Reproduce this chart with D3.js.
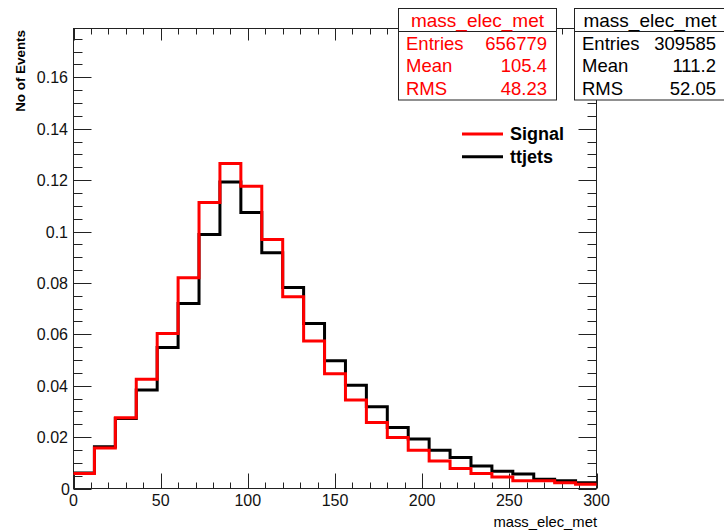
<!DOCTYPE html>
<html>
<head>
<meta charset="utf-8">
<script src="https://cdn.jsdelivr.net/npm/d3@7"></script>
<style>
  body { margin: 0; background: #fff; }
  text { font-family: "Liberation Sans", Arial, sans-serif; }
</style>
</head>
<body>
<svg id="chart" width="724" height="531"></svg>
<script>
// histogram binning: 25 bins of 12 GeV from 0 to 300
const binWidth = 12;
const nBins = 25;
const xTicks = [0, 50, 100, 150, 200, 250, 300];
const yTicks = [0, 0.02, 0.04, 0.06, 0.08, 0.1, 0.12, 0.14, 0.16];

// normalised bin contents
const signal = [0.0058, 0.0158, 0.0275, 0.0425, 0.0603, 0.0820, 0.1113, 0.1265, 0.1176, 0.0969,
  0.0746, 0.0574, 0.0447, 0.0344, 0.0257, 0.0198, 0.0149, 0.0107, 0.0078, 0.0058,
  0.0045, 0.0030, 0.0030, 0.0022, 0.0017];
const ttjets = [0.0060, 0.0162, 0.0272, 0.0383, 0.0549, 0.0720, 0.0988, 0.1193, 0.1074, 0.0917,
  0.0782, 0.0642, 0.0497, 0.0402, 0.0318, 0.0237, 0.0193, 0.0149, 0.0121, 0.0088,
  0.0067, 0.0056, 0.0036, 0.0030, 0.0022];

const seriesNames = ['Signal', 'ttjets'];
const seriesColors = ['#ff0000', '#000000'];

// stat boxes
const statTitle = 'mass_elec_met';
const statNames = ['Entries', 'Mean', 'RMS'];
const signalStats = ['656779', '105.4', '48.23'];
const ttjetsStats = ['309585', '111.2', '52.05'];

const xTitle = 'mass_elec_met';
const yTitle = 'No of Events';

const svg = d3.select('#chart');
const padL = 73.5, padR = 596.5, padT = 28.5, padB = 488.5;

const x = d3.scaleLinear().domain([0, 300]).range([padL, padR]);
const y = d3.scaleLinear().domain([0, 0.179]).range([padB, padT]);

const axisColor = '#222';

// frame
svg.append('rect')
  .attr('x', padL).attr('y', padT)
  .attr('width', padR - padL).attr('height', padB - padT)
  .attr('fill', 'none')
  .attr('stroke', axisColor)
  .attr('stroke-width', 1);

// ticks on all four sides, pointing inward (ROOT style)
const xMinor = d3.range(0, 301, 10);
const yMinor = d3.range(0, 0.1791, 0.005);
const isMajorX = v => xTicks.includes(Math.round(v));
const isMajorY = v => Math.abs(Math.round(v / 0.02) * 0.02 - v) < 1e-6;

const ticks = svg.append('g').attr('stroke', axisColor).attr('stroke-width', 1);

xMinor.forEach(v => {
  const px = Math.round(x(v)) + 0.5;
  const lb = isMajorX(v) ? 15 : 6;
  const lt = isMajorX(v) ? 12 : 6;
  ticks.append('line').attr('x1', px).attr('x2', px).attr('y1', padB).attr('y2', padB - lb);
  ticks.append('line').attr('x1', px).attr('x2', px).attr('y1', padT).attr('y2', padT + lt);
});

yMinor.forEach(v => {
  const py = Math.round(y(v)) + 0.5;
  const l = isMajorY(v) ? 18 : 9;
  ticks.append('line').attr('x1', padL).attr('x2', padL + l).attr('y1', py).attr('y2', py);
  ticks.append('line').attr('x1', padR).attr('x2', padR - l).attr('y1', py).attr('y2', py);
});

// tick labels
svg.append('g')
  .selectAll('text')
  .data(xTicks)
  .join('text')
  .attr('x', d => x(d))
  .attr('y', 505.5)
  .attr('text-anchor', 'middle')
  .attr('font-size', 16)
  .attr('fill', '#111')
  .text(d => d);

svg.append('g')
  .selectAll('text')
  .data(yTicks)
  .join('text')
  .attr('x', d => (d === 0 ? 70 : 68))
  .attr('y', d => y(d) + 6)
  .attr('text-anchor', 'end')
  .attr('font-size', 16)
  .attr('fill', '#111')
  .text(d => (d === 0 ? '0' : d3.format('.2~f')(d)));

// axis titles
svg.append('text')
  .attr('x', 597)
  .attr('y', 527)
  .attr('text-anchor', 'end')
  .attr('font-size', 14.8)
  .text(xTitle);

svg.append('text')
  .attr('transform', 'translate(24.5,30) rotate(-90)')
  .attr('text-anchor', 'end')
  .attr('font-size', 13.4)
  .attr('font-weight', 'bold')
  .text(yTitle);

// histograms as step outlines
const stepPath = values => {
  const pts = [];
  values.forEach((v, i) => {
    pts.push([x(i * binWidth), y(v)]);
    pts.push([x((i + 1) * binWidth), y(v)]);
  });
  return d3.line()(pts);
};

const hists = [ttjets, signal];
const histColors = [seriesColors[1], seriesColors[0]];
svg.append('g')
  .selectAll('path')
  .data(hists)
  .join('path')
  .attr('d', d => stepPath(d.slice(0, nBins)))
  .attr('fill', 'none')
  .attr('stroke', (d, i) => histColors[i])
  .attr('stroke-width', 3)
  .attr('stroke-linejoin', 'miter');

// legend
const legend = svg.append('g');
seriesNames.forEach((name, i) => {
  const ly = 134 + i * 22.7;
  legend.append('line')
    .attr('x1', 462).attr('x2', 503)
    .attr('y1', ly).attr('y2', ly)
    .attr('stroke', seriesColors[i])
    .attr('stroke-width', 3);
  legend.append('text')
    .attr('x', 510)
    .attr('y', ly + 6)
    .attr('font-size', 18)
    .attr('font-weight', 'bold')
    .text(name);
});

// stat boxes
const statBox = (x0, x1, color, values) => {
  const g = svg.append('g');
  g.append('rect')
    .attr('x', x0 + 0.5).attr('y', 8.5)
    .attr('width', x1 - x0).attr('height', 91.5)
    .attr('fill', '#fff')
    .attr('stroke', axisColor);
  g.append('line')
    .attr('x1', x0).attr('x2', x1 + 1)
    .attr('y1', 31.5).attr('y2', 31.5)
    .attr('stroke', axisColor);
  g.append('text')
    .attr('x', (x0 + x1) / 2 + 0.5)
    .attr('y', 26.5)
    .attr('text-anchor', 'middle')
    .attr('font-size', 19)
    .attr('fill', color)
    .text(statTitle);
  statNames.forEach((n, i) => {
    const by = 49.5 + i * 22.7;
    g.append('text')
      .attr('x', x0 + 8)
      .attr('y', by)
      .attr('font-size', 18.5)
      .attr('fill', color)
      .text(n);
    g.append('text')
      .attr('x', x1 - 9)
      .attr('y', by)
      .attr('text-anchor', 'end')
      .attr('font-size', 18.5)
      .attr('fill', color)
      .text(values[i]);
  });
};

statBox(398, 556, '#ff0000', signalStats);
statBox(574, 725, '#000000', ttjetsStats);
</script>
</body>
</html>
